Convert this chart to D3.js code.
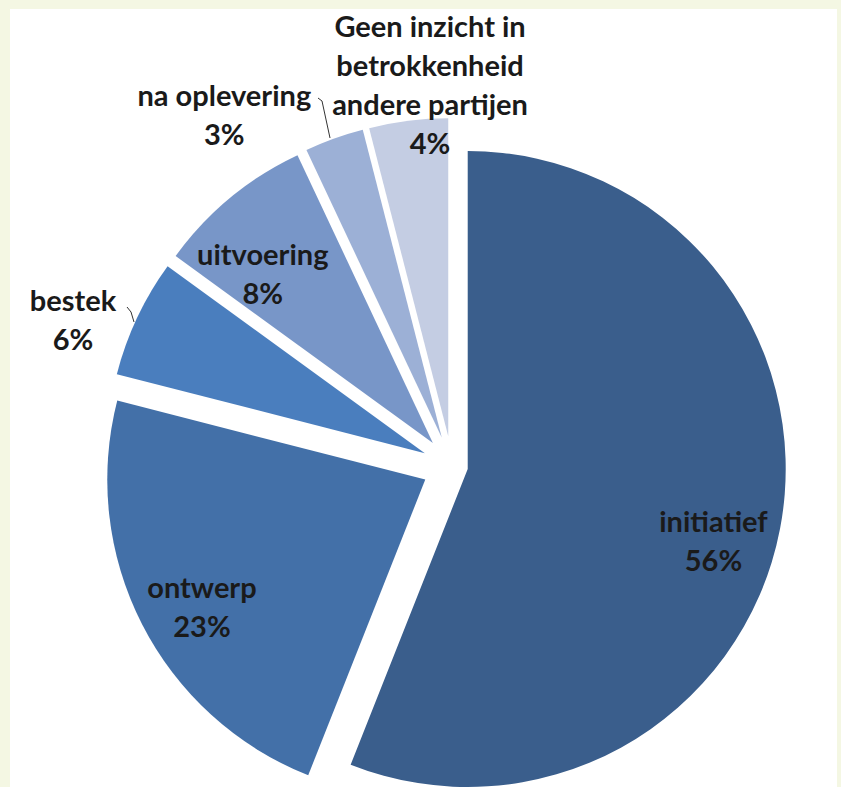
<!DOCTYPE html>
<html><head><meta charset="utf-8">
<script src="https://cdn.jsdelivr.net/npm/d3@7"></script>
<style>
html,body{margin:0;padding:0;background:#f4f7e3;}
svg{display:block;}
</style></head>
<body>
<script>
// ---- data ----
const categories = ["initiatief","ontwerp","bestek","uitvoering","na oplevering","Geen inzicht in betrokkenheid andere partijen"];
const values = [56, 23, 6, 8, 3, 4];
const labelLines = [["initiatief"],["ontwerp"],["bestek"],["uitvoering"],["na oplevering"],["Geen inzicht in","betrokkenheid","andere partijen"]];
const percentLabels = ["56%","23%","6%","8%","3%","4%"];

// ---- layout / style ----
const W = 841, H = 787;
const colors = ["#3a5e8c","#4370a8","#4a7ebe","#7896c8","#9cb0d6","#c4cde3"];
const explode = [16, 30, 30, 30, 30, 30];
const center = [452, 466];
const R = 318;
// label anchor (angle deg, radius) relative to pie centre
const labelPolar = [[106,272],[240.6,287],[291,406],[315.3,269],[327,418],[356.7,381]];

const svg = d3.select("body").append("svg").attr("width", W).attr("height", H);
svg.append("rect").attr("x",0).attr("y",0).attr("width",W).attr("height",H).attr("fill","#f4f7e3");
svg.append("rect").attr("x",10).attr("y",9).attr("width",827).attr("height",H).attr("fill","#ffffff");

const pie = d3.pie().sort(null).value(d => d)(values);
const arc = d3.arc().innerRadius(0).outerRadius(R);

const g = svg.append("g").attr("transform", `translate(${center[0]},${center[1]})`);
g.selectAll("path").data(pie).join("path")
  .attr("d", arc)
  .attr("fill", (d,i) => colors[i])
  .attr("transform", (d,i) => {
    const a = (d.startAngle + d.endAngle) / 2;
    return `translate(${Math.sin(a)*explode[i]},${-Math.cos(a)*explode[i]})`;
  });

// leader lines
const leaders = [[[127,307],[131,312],[134,322]], [[318,98],[322,101],[330,138]]];
svg.selectAll("path.leader").data(leaders).join("path")
  .attr("class","leader")
  .attr("d", d => d3.line()(d))
  .attr("fill","none").attr("stroke","#333").attr("stroke-width",1);

// labels
const fs = 29, lh = 39;
pie.forEach((d,i) => {
  const a = labelPolar[i][0] * Math.PI/180, rr = labelPolar[i][1];
  const x = center[0] + Math.sin(a)*rr, y = center[1] - Math.cos(a)*rr;
  const lines = labelLines[i].concat([percentLabels[i]]);
  const t = svg.append("text").attr("x", x).attr("y", y)
    .attr("text-anchor","middle")
    .attr("font-family","Lato, 'Open Sans', sans-serif")
    .attr("font-weight","bold").attr("font-size", fs).attr("fill","#1a1a1a");
  const n = lines.length;
  lines.forEach((s,k) => {
    t.append("tspan").attr("x", x).attr("y", y + (k - (n-1)/2)*lh).attr("dy","0.35em").text(s);
  });
});
</script>
</body></html>
